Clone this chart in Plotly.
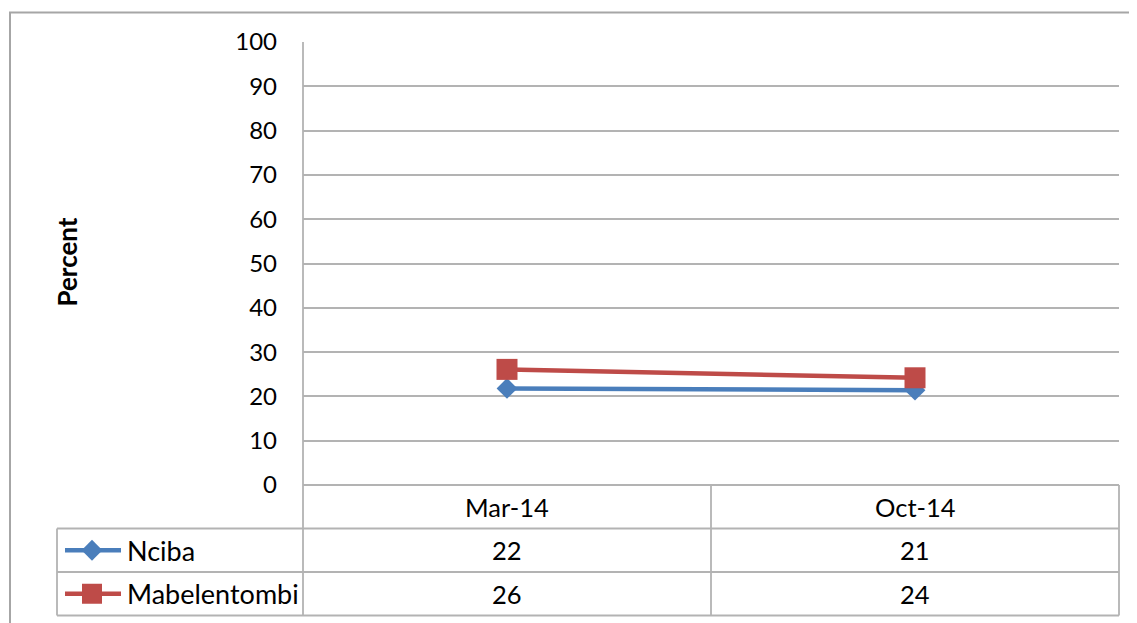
import plotly.graph_objects as go

categories = ["Mar-14", "Oct-14"]
series_names = ["Nciba", "Mabelentombi"]
nciba = [21.8, 21.4]
mabelentombi = [26.1, 24.2]
table_nciba = [22, 21]
table_mabel = [26, 24]
y_ticks = [0, 10, 20, 30, 40, 50, 60, 70, 80, 90, 100]

W, H = 1137, 623
OFF = 8  # page body margin
BLUE = "#4A7EBB"
RED = "#BE4B48"
GRID = "#B3B3B3"
FONT = "Lato, 'Open Sans', sans-serif"
FS = 25.5

# pixel layout (page coordinates)
PL, PR, PT, PB = 303, 1119, 42, 485
ROW_H = 43.5
TL = 57

def px(x):
    return (x - OFF) / W

def py(y):
    return 1 - (y - OFF) / H

fig = go.Figure()

fig.add_trace(go.Scatter(
    x=categories, y=nciba, name=series_names[0], mode="lines+markers",
    line=dict(color=BLUE, width=4.5),
    marker=dict(symbol="diamond", size=16, color=BLUE),
    xaxis="x", yaxis="y", showlegend=False))
fig.add_trace(go.Scatter(
    x=categories, y=mabelentombi, name=series_names[1], mode="lines+markers",
    line=dict(color=RED, width=4.5),
    marker=dict(symbol="square", size=21, color=RED),
    xaxis="x", yaxis="y", showlegend=False))

# legend keys inside the data table (pixel overlay axis)
key_colors = [BLUE, RED]
key_symbols = ["diamond", "square"]
key_sizes = [16, 20]
for i, name in enumerate(series_names):
    yc = PB + ROW_H * (i + 1.5)
    fig.add_trace(go.Scatter(
        x=[65, 92, 121], y=[yc, yc, yc], mode="lines",
        line=dict(color=key_colors[i], width=4.5),
        xaxis="x2", yaxis="y2", showlegend=False, hoverinfo="skip"))
    fig.add_trace(go.Scatter(
        x=[92], y=[yc], mode="markers",
        marker=dict(symbol=key_symbols[i], size=key_sizes[i], color=key_colors[i]),
        xaxis="x2", yaxis="y2", showlegend=False, hoverinfo="skip"))

shapes = []
shapes.append(dict(type="rect", xref="x2", yref="y2", x0=10, y0=12.5, x1=1170, y1=650,
                   line=dict(color="#A6A6A6", width=2), layer="below"))
bottom = PB + 3 * ROW_H
col_lines = [PL, (PL + PR) / 2, PR]
for xv in col_lines:
    shapes.append(dict(type="line", xref="x2", yref="y2", x0=xv, x1=xv, y0=PB, y1=bottom,
                       line=dict(color=GRID, width=1.8)))
shapes.append(dict(type="line", xref="x2", yref="y2", x0=TL, x1=TL, y0=PB + ROW_H, y1=bottom,
                   line=dict(color=GRID, width=1.8)))
for k, yv in enumerate([PB, PB + ROW_H, PB + 2 * ROW_H, bottom]):
    x0 = PL if k == 0 else TL
    shapes.append(dict(type="line", xref="x2", yref="y2", x0=x0, x1=PR, y0=yv, y1=yv,
                       line=dict(color=GRID, width=1.8)))
shapes.append(dict(type="line", xref="x2", yref="y2", x0=PL, x1=PL, y0=PT, y1=PB,
                   line=dict(color=GRID, width=1.8)))

annotations = []
for j, cat in enumerate(categories):
    annotations.append(dict(x=cat, xref="x", y=PB + ROW_H * 0.5, yref="y2", text=cat,
                            showarrow=False, font=dict(size=FS, color="#000", family=FONT)))
    for i, vals in enumerate([table_nciba, table_mabel]):
        annotations.append(dict(x=cat, xref="x", y=PB + ROW_H * (i + 1.5), yref="y2",
                                text=str(vals[j]), showarrow=False,
                                font=dict(size=FS, color="#000", family=FONT)))
for i, name in enumerate(series_names):
    annotations.append(dict(x=125, xref="x2", y=PB + ROW_H * (i + 1.5), yref="y2",
                            text=name, showarrow=False, xanchor="left",
                            font=dict(size=27, color="#000", family=FONT)))
annotations.append(dict(x=66, xref="x2", y=(PT + PB) / 2 - 1, yref="y2", text="<b>Percent</b>",
                        showarrow=False, textangle=-90,
                        font=dict(size=26, color="#000", family=FONT)))

fig.update_layout(
    width=W, height=H, autosize=False,
    margin=dict(l=0, r=0, t=0, b=0, pad=0),
    paper_bgcolor="white", plot_bgcolor="rgba(0,0,0,0)",
    xaxis=dict(domain=[px(PL), px(PR)], type="category", range=[-0.5, 1.5],
               showgrid=False, showticklabels=False, zeroline=False, showline=False,
               fixedrange=True, anchor="y", automargin=False),
    yaxis=dict(domain=[py(PB), py(PT)], range=[0, 100], tickvals=y_ticks,
               showgrid=True, gridcolor=GRID, gridwidth=1.8, zeroline=False,
               showline=False, ticks="", ticklabelstandoff=25, anchor="x",
               automargin=False,
               tickfont=dict(size=24, color="#000", family=FONT)),
    xaxis2=dict(domain=[0, 1], range=[OFF, W + OFF], visible=False, anchor="y2",
                automargin=False),
    yaxis2=dict(domain=[0, 1], range=[H + OFF, OFF], visible=False, anchor="x2",
                automargin=False),
    shapes=shapes,
    annotations=annotations,
)

fig.write_html("out.html")
